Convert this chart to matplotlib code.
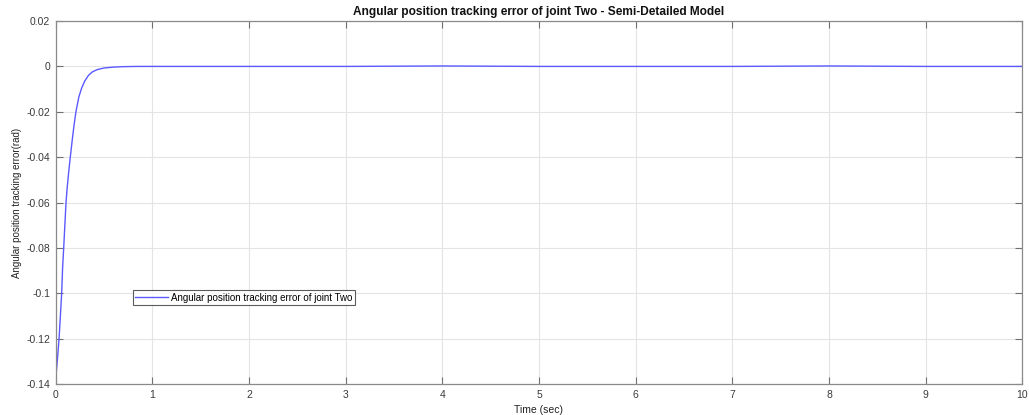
import matplotlib
matplotlib.use("Agg")
import matplotlib.pyplot as plt

# Tracking error of joint two (rad) over time (sec)
time_s = [0.0, 0.01, 0.02, 0.035, 0.05, 0.062, 0.072, 0.083, 0.095, 0.107,
          0.12, 0.135, 0.15, 0.17, 0.19, 0.21, 0.24, 0.27, 0.30, 0.34,
          0.38, 0.43, 0.50, 0.60, 0.70, 0.85, 1.0, 1.5, 2.0, 2.5, 3.0,
          3.5, 4.0, 4.5, 5.0, 5.5, 6.0, 6.5, 7.0, 7.5, 8.0, 8.5, 9.0,
          9.5, 10.0]
error_rad = [-0.1370, -0.1330, -0.1280, -0.1200, -0.1090, -0.1000, -0.0885,
             -0.0800, -0.0700, -0.0600, -0.0530, -0.0465, -0.0405, -0.0330,
             -0.0260, -0.0200, -0.0135, -0.0095, -0.0066, -0.0040, -0.0025,
             -0.0015, -0.0008, -0.0004, -0.0002, -0.0001, -0.0001, -0.0001,
             -0.0001, -0.0001, -0.0001, 0.0000, 0.0001, 0.0000, -0.0001,
             -0.0001, -0.0001, -0.0001, -0.0001, 0.0000, 0.0001, 0.0000,
             -0.0001, -0.0001, -0.0001]

x_ticks = list(range(0, 11))
y_ticks = [0.02, 0, -0.02, -0.04, -0.06, -0.08, -0.1, -0.12, -0.14]
y_tick_labels = ["0.02", "0", "-0.02", "-0.04", "-0.06", "-0.08", "-0.1", "-0.12", "-0.14"]

plt.rcParams["font.family"] = ["Liberation Sans", "DejaVu Sans"]

fig = plt.figure(figsize=(10.29, 4.15), dpi=100)
ax = fig.add_axes([0.0541, 0.074, 0.9394, 0.876])

ax.plot(time_s, error_rad, color="#5a5aff", lw=1.0,
        label="Angular position tracking error of joint Two")

ax.set_xlim(0, 10)
ax.set_ylim(-0.14, 0.02)
ax.set_xticks(x_ticks)
ax.set_yticks(y_ticks)
ax.set_yticklabels(y_tick_labels)

ax.grid(True, color="#e4e4e4", lw=0.8)
ax.set_axisbelow(True)
for s in ax.spines.values():
    s.set_color("#8a8a8a")
    s.set_linewidth(0.9)
ax.tick_params(direction="in", length=5, width=0.8, color="#707070",
               labelsize=7.5, labelcolor="#3a3a3a", top=True, right=True, pad=4)

ax.set_title("Angular position tracking error of joint Two - Semi-Detailed Model",
             fontsize=8.6, fontweight="bold", color="#111111", pad=4)
ax.set_xlabel("Time (sec)", fontsize=7.5, color="#222222", labelpad=4)
ax.set_ylabel("Angular position tracking error(rad)", fontsize=7, color="#222222",
              labelpad=3)

leg = ax.legend(loc="upper left", bbox_to_anchor=(0.080, 0.259), borderaxespad=0,
                fontsize=7, frameon=True, fancybox=False, handlelength=3.4,
                handletextpad=0.3, borderpad=0.25)
leg.get_frame().set_edgecolor("#333333")
leg.get_frame().set_linewidth(0.8)

fig.savefig("out.png", dpi=100)
